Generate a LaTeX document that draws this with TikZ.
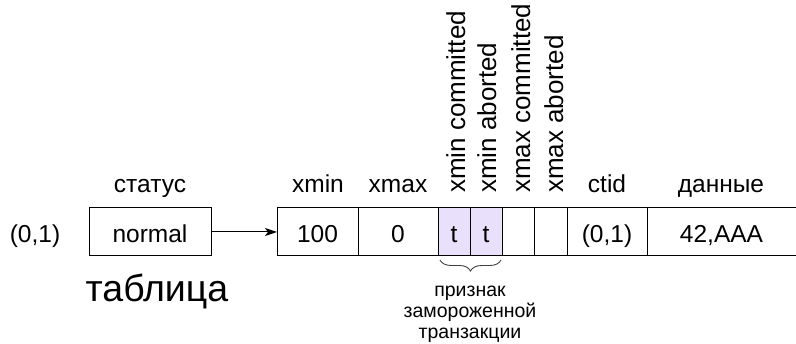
\documentclass[tikz,border=0pt]{standalone}
\usepackage{fontspec}
\setmainfont{Liberation Sans}
\usetikzlibrary{arrows.meta,decorations.pathreplacing}
\definecolor{frozen}{RGB}{233,225,252}
\begin{document}
\begin{tikzpicture}[x=1pt,y=-1pt,
  lbl/.style={font=\fontsize{24.5}{28}\selectfont, inner sep=0pt, outer sep=0pt, anchor=base},
  vlbl/.style={lbl, font=\fontsize{26}{30}\selectfont, rotate=90, anchor=base west},
  cell/.style={draw, line width=1pt, minimum height=48pt, inner sep=0pt, outer sep=0pt,
    anchor=west, font=\fontsize{24.5}{28}\selectfont, text height=21pt, text depth=0pt},
  frz/.style={cell, fill=frozen},
  note/.style={font=\fontsize{19.5}{21}\selectfont, align=center, inner sep=0pt, anchor=base},
  link/.style={line width=1pt, -{Stealth[length=12pt,width=8pt,inset=3pt]}},
  brc/.style={draw=black!75, line width=0.9pt, decorate, decoration={brace, mirror, amplitude=11pt}}
]
\useasboundingbox (0,0) rectangle (796,344);
% left part
\node[lbl] (tid) at (35,242.5) {(0,1)};
\node[cell, minimum width=122pt, anchor=center] (st) at (150,232) {normal};
\node[lbl] (lstat) at (150,193) {статус};
\node[lbl, font=\fontsize{37.5}{42}\selectfont] (tbl) at (157,302) {таблица};
% row
\node[cell, minimum width=81pt] (xmin) at (277,232) {100};
\node[cell, minimum width=80pt] (xmax) at (xmin.east) {0};
\node[frz, minimum width=32pt] (t1) at (xmax.east) {t};
\node[frz, minimum width=32pt] (t2) at (t1.east) {t};
\node[cell, minimum width=32pt] (t3) at (t2.east) {};
\node[cell, minimum width=33pt] (t4) at (t3.east) {};
\node[cell, minimum width=80pt] (ctid) at (t4.east) {(0,1)};
\node[cell, minimum width=149pt] (data) at (ctid.east) {42,AAA};
% arrow
\draw[link] (st.east) -- (xmin.west);
% labels
\node[lbl] (lxmin) at (318,193) {xmin};
\node[lbl] (lxmax) at (398,193) {xmax};
\node[lbl] (lctid) at (607,193) {ctid};
\node[lbl] (ldata) at (721,193) {данные};
\node[vlbl] (v1) at (465,193) {xmin committed};
\node[vlbl] (v2) at (496,193) {xmin aborted};
\node[vlbl] (v3) at (530,193) {xmax committed};
\node[vlbl] (v4) at (563,193) {xmax aborted};
% brace
\draw[brc] ([xshift=2pt,yshift=-4pt]t1.south west) -- ([xshift=-1pt,yshift=-4pt]t2.south east);
\node[note] (frozen) at (470,339) {признак\\замороженной\\транзакции};
\end{tikzpicture}
\end{document}
